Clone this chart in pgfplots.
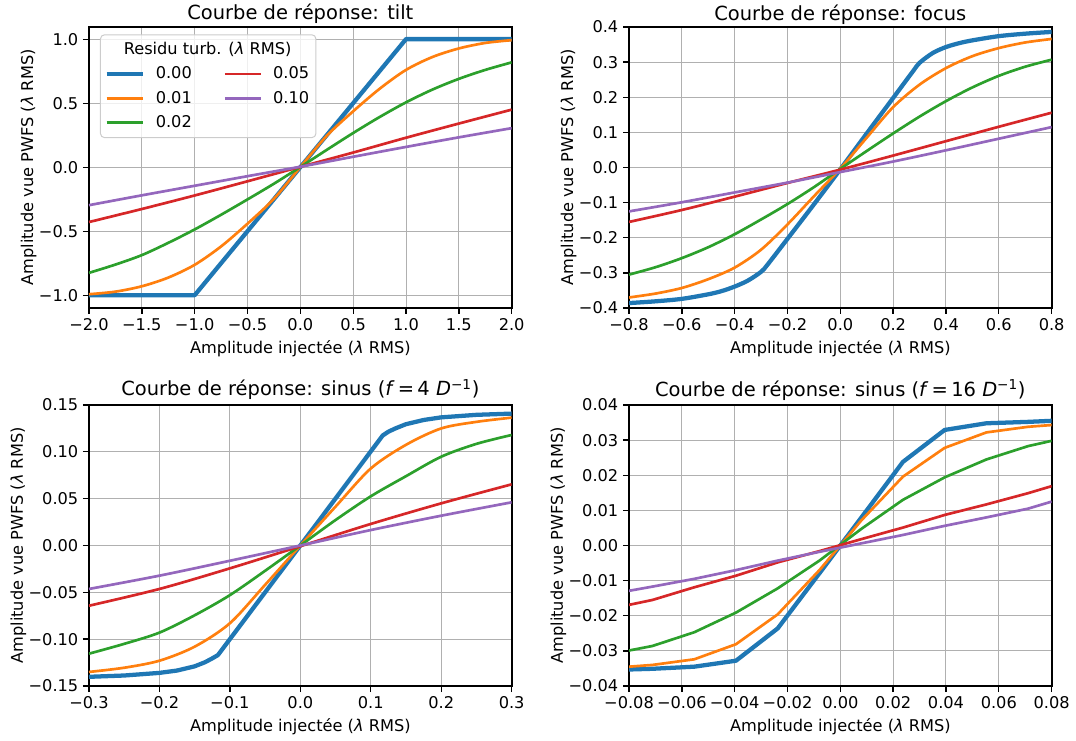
\documentclass[border=0pt]{standalone}
\usepackage{fontspec}
\setmainfont{DejaVu Sans}
\usepackage{pgfplots}
\pgfplotsset{compat=1.18}
\definecolor{c0}{HTML}{1F77B4}
\definecolor{c1}{HTML}{FF7F0E}
\definecolor{c2}{HTML}{2CA02C}
\definecolor{c3}{HTML}{D62728}
\definecolor{c4}{HTML}{9467BD}
\definecolor{gridgray}{HTML}{B0B0B0}
\definecolor{leggray}{HTML}{CCCCCC}
\newcommand{\fs}{\fontsize{12.15}{14.6}\selectfont}
\newcommand{\fst}{\fontsize{14.6}{17.5}\selectfont}
\pgfplotsset{
  mpl/.style={
    scale only axis, width=317pt, height=210.75pt,
    axis line style={line width=1.6pt, black},
    grid=major, major grid style={line width=0.75pt, color=gridgray},
    tick align=outside, major tick length=4.5pt,
    every tick/.style={line width=1pt, black},
    xtick pos=left, ytick pos=left,
    scaled ticks=false,
    ticklabel style={font=\fs},
    label style={font=\fs},
    ylabel style={yshift=-5pt},
    title style={font=\fst, at={(0.5,1)}, anchor=base, yshift=-0.75pt},
    xlabel={Amplitude injectée (\textit{λ} RMS)},
    ylabel={Amplitude vue PWFS (\textit{λ} RMS)},
    every axis plot/.append style={line width=2pt, line join=round},
  },
  thickblue/.style={c0, line width=3.2pt},
}
\begin{document}
\begin{tikzpicture}
\useasboundingbox (0pt,0pt) rectangle (807pt,555pt);
% ---------------- Panel 1: tilt
\begin{axis}[mpl, at={(66.75pt,324pt)}, anchor=south west,
  title={Courbe de réponse: tilt},
  xmin=-2, xmax=2, ymin=-1.1, ymax=1.1,
  xtick={-2,-1.5,-1,-0.5,0,0.5,1,1.5,2},
  xticklabels={−2.0,−1.5,−1.0,−0.5,0.0,0.5,1.0,1.5,2.0},
  ytick={-1,-0.5,0,0.5,1},
  yticklabels={−1.0,−0.5,0.0,0.5,1.0},
  legend columns=2,
  legend cell align=left,
  legend image code/.code={\draw[#1] (0pt,0pt) -- (27pt,0pt);},
  legend style={at={(0.026,0.974)}, anchor=north west, font=\fs,
    draw=leggray, line width=0.75pt, rounded corners=3pt,
    fill=white, fill opacity=0.8, text opacity=1,
    inner xsep=3pt, inner ysep=2.15pt,
    column sep=6.25pt, row sep=0pt,
    nodes={text height=9pt, text depth=1.7pt, inner ysep=3.75pt},
    /tikz/every even column/.append style={column sep=21.75pt}},
]
\addlegendimage{empty legend}
\addlegendentry{\makebox[0pt][l]{\hspace*{-24pt}Residu turb. (\textit{λ} RMS)}}
\addlegendimage{empty legend}
\addlegendentry{}
\addlegendimage{thickblue}\addlegendentry{0.00}
\addlegendimage{c3, line width=2pt}\addlegendentry{0.05}
\addlegendimage{c1, line width=2pt}\addlegendentry{0.01}
\addlegendimage{c4, line width=2pt}\addlegendentry{0.10}
\addlegendimage{c2, line width=2pt}\addlegendentry{0.02}
\addplot[thickblue, forget plot] coordinates {(-2,-1) (-1,-1) (1,1.005) (2,1.005)};
\addplot[c1, smooth, forget plot] coordinates {(-2,-0.992) (-1.75,-0.972) (-1.5,-0.930) (-1.25,-0.862) (-1,-0.762) (-0.75,-0.618) (-0.5,-0.44) (-0.25,-0.245) (0,0.003) (0.25,0.248) (0.5,0.44) (0.75,0.616) (1,0.764) (1.25,0.865) (1.5,0.932) (1.75,0.975) (2,0.997)};
\addplot[c2, smooth, forget plot] coordinates {(-2,-0.825) (-1.75,-0.76) (-1.5,-0.686) (-1.25,-0.59) (-1,-0.485) (-0.75,-0.37) (-0.5,-0.25) (-0.25,-0.127) (0,0.004) (0.25,0.138) (0.5,0.27) (0.75,0.395) (1,0.51) (1.25,0.61) (1.5,0.694) (1.75,0.764) (2,0.823)};
\addplot[c3, smooth, forget plot] coordinates {(-2,-0.427) (-1.5,-0.325) (-1,-0.219) (-0.5,-0.108) (0,0.005) (0.5,0.117) (1,0.233) (1.5,0.344) (2,0.453)};
\addplot[c4, smooth, forget plot] coordinates {(-2,-0.295) (-1.5,-0.218) (-1,-0.143) (-0.5,-0.068) (0,0.006) (0.5,0.084) (1,0.161) (1.5,0.236) (2,0.308)};
\end{axis}
% ---------------- Panel 2: focus
\begin{axis}[mpl, at={(471.75pt,324pt)}, anchor=south west,
  title={Courbe de réponse: focus},
  xmin=-0.8, xmax=0.8, ymin=-0.4, ymax=0.4,
  xtick={-0.8,-0.6,-0.4,-0.2,0,0.2,0.4,0.6,0.8},
  xticklabels={−0.8,−0.6,−0.4,−0.2,0.0,0.2,0.4,0.6,0.8},
  ytick={-0.4,-0.3,-0.2,-0.1,0,0.1,0.2,0.3,0.4},
  yticklabels={−0.4,−0.3,−0.2,−0.1,0.0,0.1,0.2,0.3,0.4},
]
\addplot[thickblue, smooth] coordinates {(-0.8,-0.386) (-0.7,-0.381) (-0.6,-0.374) (-0.5,-0.361) (-0.45,-0.352) (-0.4,-0.339) (-0.35,-0.322) (-0.3,-0.297) (-0.275,-0.276) (-0.2,-0.203) (-0.1,-0.105) (0,-0.005) (0.1,0.097) (0.2,0.198) (0.275,0.274) (0.3,0.298) (0.35,0.326) (0.4,0.343) (0.45,0.354) (0.5,0.362) (0.6,0.374) (0.7,0.381) (0.8,0.386)};
\addplot[c1, smooth] coordinates {(-0.8,-0.370) (-0.7,-0.359) (-0.6,-0.343) (-0.5,-0.318) (-0.4,-0.285) (-0.3,-0.234) (-0.2,-0.162) (-0.1,-0.082) (0,-0.003) (0.1,0.085) (0.2,0.172) (0.3,0.236) (0.4,0.283) (0.5,0.317) (0.6,0.340) (0.7,0.356) (0.8,0.366)};
\addplot[c2, smooth] coordinates {(-0.8,-0.305) (-0.7,-0.284) (-0.6,-0.258) (-0.5,-0.227) (-0.4,-0.19) (-0.3,-0.148) (-0.2,-0.104) (-0.1,-0.056) (0,-0.004) (0.1,0.047) (0.2,0.097) (0.3,0.145) (0.4,0.189) (0.5,0.228) (0.6,0.261) (0.7,0.287) (0.8,0.307)};
\addplot[c3, smooth] coordinates {(-0.8,-0.155) (-0.6,-0.121) (-0.4,-0.083) (-0.2,-0.044) (0,-0.006) (0.2,0.034) (0.4,0.075) (0.6,0.116) (0.8,0.156)};
\addplot[c4, smooth] coordinates {(-0.8,-0.125) (-0.6,-0.099) (-0.4,-0.071) (-0.2,-0.043) (0,-0.013) (0.2,0.017) (0.4,0.049) (0.6,0.082) (0.8,0.115)};
\end{axis}
% ---------------- Panel 3: sinus f=4
\begin{axis}[mpl, at={(66.75pt,40.5pt)}, anchor=south west,
  title style={yshift=1.5pt},
  title={Courbe de réponse: sinus (\textit{f}\,=\,4 \textit{D}\textsuperscript{−1})},
  xmin=-0.3, xmax=0.3, ymin=-0.15, ymax=0.15,
  xtick={-0.3,-0.2,-0.1,0,0.1,0.2,0.3},
  xticklabels={−0.3,−0.2,−0.1,0.0,0.1,0.2,0.3},
  ytick={-0.15,-0.1,-0.05,0,0.05,0.1,0.15},
  yticklabels={−0.15,−0.10,−0.05,0.00,0.05,0.10,0.15},
]
\addplot[thickblue] coordinates {(-0.3,-0.1402) (-0.25,-0.1388) (-0.2,-0.1360) (-0.175,-0.1335) (-0.15,-0.1290) (-0.135,-0.1245) (-0.125,-0.1205) (-0.117,-0.1170) (0,0) (0.117,0.1175) (0.125,0.1215) (0.135,0.1250) (0.15,0.1295) (0.175,0.1340) (0.2,0.1368) (0.25,0.1395) (0.3,0.1408)};
\addplot[c1, smooth] coordinates {(-0.3,-0.1350) (-0.25,-0.1305) (-0.2,-0.1230) (-0.15,-0.1080) (-0.1,-0.0830) (-0.05,-0.0420) (0,0) (0.05,0.0415) (0.1,0.0822) (0.15,0.1075) (0.2,0.1250) (0.25,0.1320) (0.3,0.1365)};
\addplot[c2, smooth] coordinates {(-0.3,-0.1155) (-0.25,-0.1050) (-0.2,-0.0930) (-0.15,-0.0745) (-0.1,-0.0530) (-0.05,-0.0270) (0,0) (0.05,0.0272) (0.1,0.0525) (0.15,0.0740) (0.2,0.0948) (0.25,0.1085) (0.3,0.1180)};
\addplot[c3, smooth] coordinates {(-0.3,-0.0643) (-0.2,-0.0464) (-0.1,-0.0244) (0,-0.0008) (0.1,0.0230) (0.2,0.0450) (0.3,0.0653)};
\addplot[c4, smooth] coordinates {(-0.3,-0.0464) (-0.2,-0.0322) (-0.1,-0.0163) (0,0) (0.1,0.0165) (0.2,0.0318) (0.3,0.0461)};
\end{axis}
% ---------------- Panel 4: sinus f=16
\begin{axis}[mpl, at={(471.75pt,40.5pt)}, anchor=south west,
  title style={yshift=1.5pt},
  title={Courbe de réponse: sinus (\textit{f}\,=\,16 \textit{D}\textsuperscript{−1})},
  xmin=-0.08, xmax=0.08, ymin=-0.04, ymax=0.04,
  xtick={-0.08,-0.06,-0.04,-0.02,0,0.02,0.04,0.06,0.08},
  xticklabels={−0.08,−0.06,−0.04,−0.02,0.00,0.02,0.04,0.06,0.08},
  ytick={-0.04,-0.03,-0.02,-0.01,0,0.01,0.02,0.03,0.04},
  yticklabels={−0.04,−0.03,−0.02,−0.01,0.00,0.01,0.02,0.03,0.04},
]
\addplot[thickblue] coordinates {(-0.08,-0.0353) (-0.0711,-0.0351) (-0.0553,-0.0345) (-0.0395,-0.0328) (-0.0237,-0.0236) (-0.0079,-0.0079) (0.0079,0.0079) (0.0237,0.0238) (0.0395,0.0329) (0.0553,0.0348) (0.0711,0.0352) (0.08,0.0355)};
\addplot[c1] coordinates {(-0.08,-0.0345) (-0.0711,-0.0340) (-0.0553,-0.0324) (-0.0395,-0.0281) (-0.0237,-0.0196) (-0.0079,-0.0070) (0.0079,0.0071) (0.0237,0.0196) (0.0395,0.0278) (0.0553,0.0322) (0.0711,0.0338) (0.08,0.0343)};
\addplot[c2] coordinates {(-0.08,-0.0299) (-0.0711,-0.0286) (-0.0553,-0.0247) (-0.0395,-0.0191) (-0.0237,-0.0122) (-0.0079,-0.0043) (0.0079,0.0047) (0.0237,0.0130) (0.0395,0.0194) (0.0553,0.0245) (0.0711,0.0283) (0.08,0.0298)};
\addplot[c3] coordinates {(-0.08,-0.0169) (-0.0711,-0.0155) (-0.0553,-0.0119) (-0.0395,-0.0086) (-0.0237,-0.0048) (-0.0079,-0.0016) (0.0079,0.0018) (0.0237,0.0051) (0.0395,0.0087) (0.0553,0.0117) (0.0711,0.0149) (0.08,0.0169)};
\addplot[c4] coordinates {(-0.08,-0.0129) (-0.0711,-0.0117) (-0.0553,-0.0095) (-0.0395,-0.0070) (-0.0237,-0.0043) (-0.0079,-0.0018) (0.0079,0.0006) (0.0237,0.0030) (0.0395,0.0056) (0.0553,0.0080) (0.0711,0.0105) (0.08,0.0125)};
\end{axis}
\end{tikzpicture}
\end{document}
